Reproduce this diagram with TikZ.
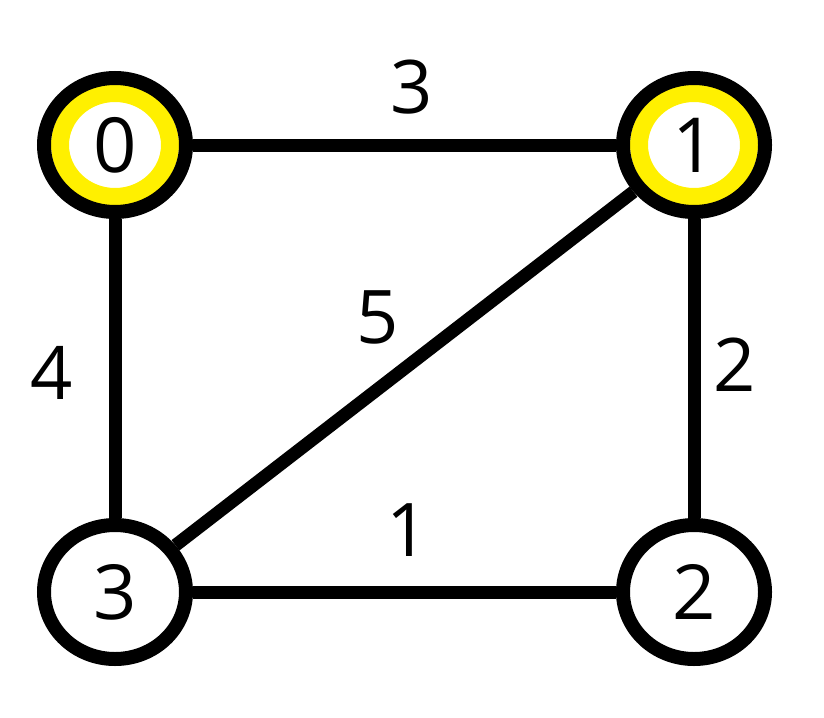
\documentclass[tikz,border=0pt]{standalone}
\usepackage{fontspec}
\setmainfont{Open Sans}
\usetikzlibrary{shapes.geometric}
\definecolor{ringyellow}{RGB}{255,240,0}
\begin{document}
\begin{tikzpicture}[x=1pt,y=-1pt,
  vertex/.style={ellipse, draw=black, fill=white, line width=14pt,
    minimum width=142pt, minimum height=134pt, inner sep=0pt,
    font=\fontsize{76}{76}\selectfont},
  hl/.style={path picture={\draw[ringyellow, line width=18pt]
    (path picture bounding box.center) ellipse [x radius=55pt, y radius=52pt];}},
  edge/.style={line width=13pt, draw=black},
  wlabel/.style={font=\fontsize{74}{74}\selectfont, inner sep=0pt}]
\useasboundingbox (0,0) rectangle (824,717);
\node[vertex, hl] (n0) at (115,145) {0};
\node[vertex, hl] (n1) at (694,145) {1};
\node[vertex] (n2) at (694,592) {2};
\node[vertex] (n3) at (115,592) {3};
\draw[edge] (n0) -- (n1);
\draw[edge] (n0) -- (n3);
\draw[edge] (n1) -- (n2);
\draw[edge] (n3) -- (n2);
\draw[edge] (n3) -- (n1);
\node[wlabel] (w01) at (412,87) {3};
\node[wlabel] (w03) at (52,373) {4};
\node[wlabel] (w13) at (378,317) {5};
\node[wlabel] (w12) at (735,365) {2};
\node[wlabel] (w32) at (408,530) {1};
\end{tikzpicture}
\end{document}
